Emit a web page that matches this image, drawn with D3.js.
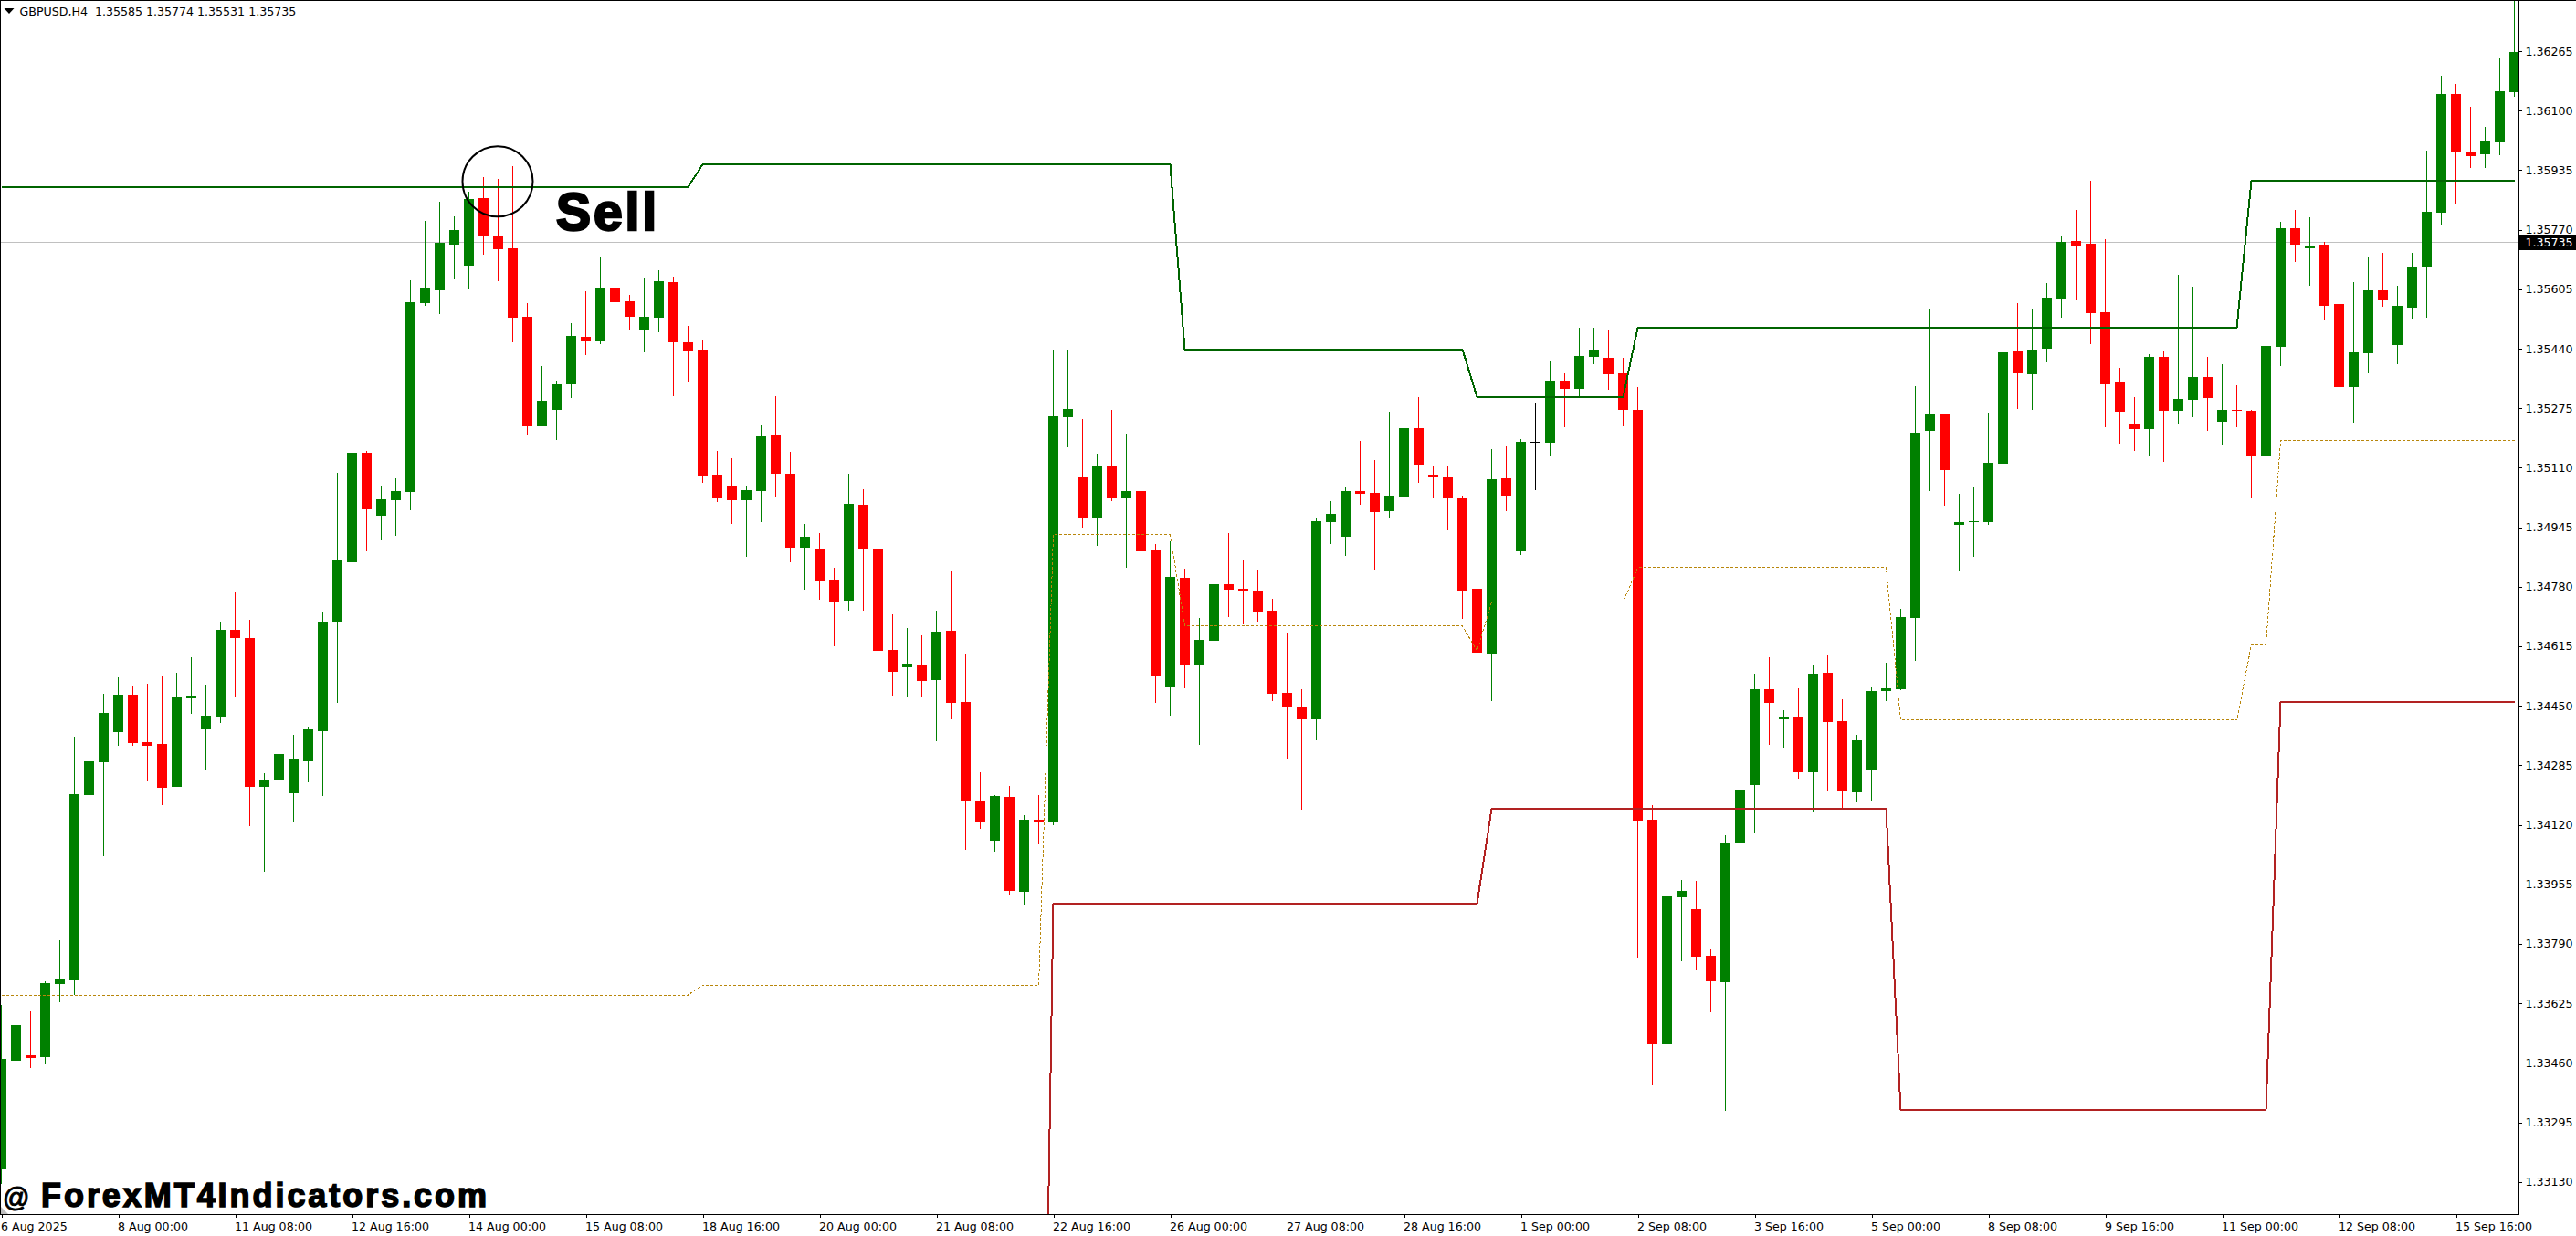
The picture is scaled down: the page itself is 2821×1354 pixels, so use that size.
<!DOCTYPE html>
<html>
<head>
<meta charset="utf-8">
<title>GBPUSD,H4</title>
<script src="https://cdn.jsdelivr.net/npm/d3@7/dist/d3.min.js"></script>
<style>
 html, body { margin: 0; padding: 0; background: #fff; }
 svg { display: block; }
 text { font-family: "DejaVu Sans", sans-serif; white-space: pre; }
</style>
</head>
<body>
<svg width="2821" height="1354"></svg>
<script>
// OHLC of every H4 bar
var barOpen = [
 1.33165,1.33466,1.33481,1.33476,1.33679,1.33689,1.34202,1.34294,1.34377,1.34481,
 1.34349,1.34344,1.34225,1.34471,1.34385,1.34420,1.34661,1.34638,1.34225,1.34243,
 1.34208,1.34296,1.34380,1.34683,1.34848,1.35152,1.34977,1.35020,1.35043,1.35567,
 1.35602,1.35729,1.35670,1.35858,1.35754,1.35719,1.35529,1.35225,1.35271,1.35341,
 1.35473,1.35460,1.35610,1.35572,1.35491,1.35526,1.35625,1.35458,1.35438,1.35091,
 1.35061,1.35020,1.35045,1.35200,1.35093,1.34888,1.34886,1.34800,1.34742,1.35007,
 1.34886,1.34605,1.34557,1.34564,1.34521,1.34658,1.34461,1.34187,1.34076,1.34197,
 1.33934,1.34134,1.34127,1.35250,1.35083,1.34969,1.35114,1.35025,1.35045,1.34881,
 1.34501,1.34805,1.34564,1.34630,1.34787,1.34775,1.34769,1.34714,1.34486,1.34448,
 1.34413,1.34959,1.34919,1.35045,1.35040,1.34990,1.35030,1.35220,1.35091,1.35086,
 1.35028,1.34775,1.34595,1.35081,1.34878,1.35181,1.35179,1.35352,1.35329,1.35417,
 1.35415,1.35372,1.35271,1.34134,1.33512,1.33919,1.33886,1.33757,1.33684,1.34068,
 1.34230,1.34496,1.34413,1.34420,1.34266,1.34542,1.34408,1.34210,1.34273,1.34491,
 1.34496,1.34694,1.35212,1.35258,1.34952,1.34959,1.34959,1.35121,1.35435,1.35369,
 1.35440,1.35579,1.35739,1.35731,1.35541,1.35347,1.35230,1.35217,1.35417,1.35268,
 1.35298,1.35362,1.35238,1.35271,1.35268,1.35141,1.35445,1.35774,1.35719,1.35729,
 1.35564,1.35334,1.35428,1.35602,1.35450,1.35554,1.35665,1.35817,1.36146,1.35987,
 1.35979,1.36012,1.36151
];
var barClose = [
 1.33471,1.33565,1.33474,1.33681,1.33691,1.34205,1.34296,1.34430,1.34481,1.34347,
 1.34339,1.34223,1.34473,1.34478,1.34423,1.34661,1.34638,1.34225,1.34246,1.34316,
 1.34301,1.34385,1.34683,1.34853,1.35152,1.34995,1.35023,1.35045,1.35569,1.35607,
 1.35734,1.35769,1.35855,1.35754,1.35716,1.35526,1.35225,1.35296,1.35341,1.35476,
 1.35460,1.35610,1.35569,1.35529,1.35529,1.35627,1.35458,1.35435,1.35088,1.35028,
 1.35020,1.35048,1.35197,1.35093,1.34888,1.34919,1.34797,1.34739,1.35010,1.34886,
 1.34602,1.34544,1.34567,1.34519,1.34656,1.34458,1.34185,1.34129,1.34200,1.33937,
 1.34134,1.34127,1.35253,1.35273,1.34969,1.35114,1.35025,1.35045,1.34878,1.34532,
 1.34807,1.34562,1.34633,1.34787,1.34772,1.34769,1.34711,1.34483,1.34445,1.34413,
 1.34962,1.34982,1.35045,1.35038,1.34987,1.35033,1.35220,1.35119,1.35083,1.35025,
 1.34769,1.34597,1.35078,1.35033,1.35182,1.35181,1.35352,1.35329,1.35420,1.35438,
 1.35369,1.35271,1.34132,1.33512,1.33922,1.33937,1.33755,1.33686,1.34068,1.34218,
 1.34496,1.34458,1.34420,1.34266,1.34539,1.34405,1.34213,1.34354,1.34491,1.34499,
 1.34696,1.35207,1.35260,1.35104,1.34959,1.34962,1.35124,1.35430,1.35372,1.35438,
 1.35582,1.35736,1.35726,1.35539,1.35341,1.35266,1.35217,1.35417,1.35268,1.35301,
 1.35362,1.35303,1.35271,1.35268,1.35141,1.35448,1.35774,1.35729,1.35726,1.35559,
 1.35334,1.35430,1.35602,1.35574,1.35559,1.35668,1.35820,1.36146,1.35984,1.35974,
 1.36015,1.36154,1.36263
];
var barHigh = [
 1.33620,1.33681,1.33603,1.33686,1.33800,1.34365,1.34344,1.34483,1.34529,1.34506,
 1.34511,1.34532,1.34542,1.34585,1.34509,1.34683,1.34764,1.34688,1.34263,1.34370,
 1.34370,1.34392,1.34711,1.35096,1.35235,1.35157,1.35061,1.35081,1.35630,1.35795,
 1.35848,1.35807,1.35875,1.35916,1.35911,1.35946,1.35567,1.35392,1.35352,1.35511,
 1.35600,1.35696,1.35749,1.35589,1.35638,1.35658,1.35640,1.35503,1.35463,1.35157,
 1.35136,1.35061,1.35228,1.35309,1.35154,1.34954,1.34929,1.34833,1.35093,1.35050,
 1.34916,1.34704,1.34666,1.34645,1.34714,1.34825,1.34595,1.34266,1.34202,1.34228,
 1.34147,1.34202,1.35438,1.35438,1.35245,1.35149,1.35271,1.35205,1.35129,1.34899,
 1.34906,1.34830,1.34694,1.34931,1.34929,1.34853,1.34828,1.34747,1.34653,1.34496,
 1.34972,1.35017,1.35058,1.35185,1.35131,1.35266,1.35271,1.35306,1.35114,1.35114,
 1.35033,1.34790,1.35162,1.35169,1.35190,1.35291,1.35405,1.35372,1.35498,1.35498,
 1.35493,1.35415,1.35334,1.34175,1.34185,1.33967,1.33965,1.33775,1.34091,1.34294,
 1.34539,1.34585,1.34438,1.34499,1.34564,1.34590,1.34468,1.34370,1.34501,1.34569,
 1.34719,1.35336,1.35549,1.35260,1.35038,1.35055,1.35263,1.35491,1.35567,1.35549,
 1.35622,1.35751,1.35825,1.35906,1.35744,1.35387,1.35306,1.35425,1.35433,1.35645,
 1.35612,1.35417,1.35397,1.35339,1.35271,1.35488,1.35792,1.35825,1.35805,1.35736,
 1.35749,1.35625,1.35693,1.35706,1.35615,1.35706,1.35989,1.36197,1.36174,1.36111,
 1.36055,1.36245,1.36407
];
var barLow = [
 1.33124,1.33448,1.33446,1.33456,1.33628,1.33648,1.33899,1.34033,1.34339,1.34339,
 1.34240,1.34175,1.34225,1.34428,1.34273,1.34402,1.34476,1.34116,1.33990,1.34170,
 1.34129,1.34238,1.34200,1.34458,1.34628,1.34878,1.34909,1.34921,1.34992,1.35559,
 1.35536,1.35633,1.35605,1.35701,1.35627,1.35458,1.35202,1.35225,1.35187,1.35303,
 1.35422,1.35453,1.35534,1.35493,1.35430,1.35486,1.35309,1.35347,1.35068,1.35015,
 1.34954,1.34863,1.34959,1.35030,1.34848,1.34772,1.34744,1.34615,1.34714,1.34714,
 1.34473,1.34478,1.34473,1.34476,1.34352,1.34413,1.34051,1.34109,1.34046,1.33927,
 1.33899,1.34066,1.34119,1.35167,1.34944,1.34893,1.35017,1.34833,1.34843,1.34458,
 1.34423,1.34499,1.34342,1.34610,1.34696,1.34676,1.34683,1.34463,1.34301,1.34162,
 1.34354,1.34899,1.34866,1.35007,1.34828,1.34972,1.34886,1.35068,1.35025,1.34937,
 1.34691,1.34458,1.34463,1.34990,1.34868,1.35048,1.35144,1.35222,1.35306,1.35397,
 1.35326,1.35225,1.33752,1.33398,1.33420,1.33742,1.33717,1.33600,1.33327,1.33947,
 1.34099,1.34342,1.34334,1.34248,1.34157,1.34215,1.34167,1.34182,1.34187,1.34463,
 1.34494,1.34575,1.35045,1.35005,1.34823,1.34863,1.34952,1.35015,1.35273,1.35271,
 1.35402,1.35526,1.35574,1.35453,1.35222,1.35177,1.35157,1.35141,1.35126,1.35230,
 1.35250,1.35212,1.35174,1.35222,1.35028,1.34931,1.35392,1.35681,1.35615,1.35519,
 1.35306,1.35235,1.35372,1.35557,1.35397,1.35521,1.35526,1.35782,1.35843,1.35941,
 1.35941,1.35977,1.36139
];

// Indicator levels, given at the bars where they change
var upperBars = [0, 47, 48, 80, 81, 100, 101, 111, 112, 153, 154, 172];
var upperVals = [1.35888, 1.35888, 1.35951, 1.35951, 1.35438, 1.35438, 1.35306, 1.35306, 1.35498, 1.35498, 1.35906, 1.35906];
var lowerBars = [71, 72, 101, 102, 129, 130, 155, 156, 172];
var lowerVals = [1.31396, 1.33901, 1.33901, 1.34165, 1.34165, 1.33329, 1.33329, 1.34461, 1.34461];
var midBars = [0, 47, 48, 71, 72, 80, 81, 100, 101, 102, 111, 112, 129, 130, 153, 154, 155, 156, 172];
var midVals = [1.33648, 1.33648, 1.33674, 1.33674, 1.34924, 1.34924, 1.34671, 1.34671, 1.34602, 1.34737, 1.34737, 1.34833, 1.34833, 1.34410, 1.34410, 1.34618, 1.34618, 1.35185, 1.35185];

// Axis ticks
var priceTicks = [1.36265, 1.36100, 1.35935, 1.35770, 1.35605, 1.35440, 1.35275, 1.35110, 1.34945, 1.34780,
 1.34615, 1.34450, 1.34285, 1.34120, 1.33955, 1.33790, 1.33625, 1.33460, 1.33295, 1.33130];
var timeLabels = ["6 Aug 2025", "8 Aug 00:00", "11 Aug 08:00", "12 Aug 16:00", "14 Aug 00:00", "15 Aug 08:00",
 "18 Aug 16:00", "20 Aug 00:00", "21 Aug 08:00", "22 Aug 16:00", "26 Aug 00:00", "27 Aug 08:00", "28 Aug 16:00",
 "1 Sep 00:00", "2 Sep 08:00", "3 Sep 16:00", "5 Sep 00:00", "8 Sep 08:00", "9 Sep 16:00", "11 Sep 00:00",
 "12 Sep 08:00", "15 Sep 16:00"];
var barsPerLabel = 8;
var lastPrice = 1.35735;
var headerText = "GBPUSD,H4  1.35585 1.35774 1.35531 1.35735";

var plotRight = 2758, plotBottom = 1330;
var bodyWidth = 11;

var svg = d3.select("svg");

var x = d3.scaleLinear().domain([0, barOpen.length - 1]).range([1.5, 2753.5]);
var y = d3.scaleLinear().domain([1.36265, 1.33130]).range([56, 1294.7]);

svg.append("defs").append("clipPath").attr("id", "plot")
 .append("rect").attr("width", plotRight).attr("height", plotBottom);

var g = svg.append("g").attr("clip-path", "url(#plot)");

// last price line sits behind the candles
g.append("line")
 .attr("x1", 0).attr("x2", plotRight)
 .attr("y1", y(lastPrice)).attr("y2", y(lastPrice))
 .attr("stroke", "#c0c0c0").attr("stroke-width", 1)
 .attr("shape-rendering", "crispEdges");

function barColor(i) {
 if (barClose[i] > barOpen[i]) return "#008000";
 if (barClose[i] < barOpen[i]) return "#ff0000";
 return "#000000";
}

var bars = g.selectAll(".bar")
 .data(d3.range(barOpen.length))
 .enter()
 .append("g")
 .attr("class", "bar")
 .attr("shape-rendering", "crispEdges");

bars.append("line")
 .attr("x1", function(i) { return x(i); })
 .attr("x2", function(i) { return x(i); })
 .attr("y1", function(i) { return y(barHigh[i]); })
 .attr("y2", function(i) { return y(barLow[i]); })
 .attr("stroke", barColor)
 .attr("stroke-width", 1);

bars.append("rect")
 .attr("x", function(i) { return x(i) - bodyWidth / 2; })
 .attr("width", bodyWidth)
 .attr("y", function(i) { return Math.round(y(Math.max(barOpen[i], barClose[i]))); })
 .attr("height", function(i) {
  return Math.max(1, Math.round(y(Math.min(barOpen[i], barClose[i]))) - Math.round(y(Math.max(barOpen[i], barClose[i]))));
 })
 .attr("fill", barColor);

function levelLine(barsArr, valsArr) {
 return d3.line()
  .x(function(d, i) { return x(barsArr[i]); })
  .y(function(d) { return y(d); })(valsArr);
}

g.append("path")
 .attr("d", levelLine(midBars, midVals))
 .attr("fill", "none").attr("stroke", "#b8860b").attr("stroke-width", 1)
 .attr("stroke-dasharray", "3,2")
 .attr("shape-rendering", "crispEdges");

g.append("path")
 .attr("d", levelLine(upperBars, upperVals))
 .attr("fill", "none").attr("stroke", "#006400").attr("stroke-width", 2)
 .attr("shape-rendering", "crispEdges");

g.append("path")
 .attr("d", levelLine(lowerBars, lowerVals))
 .attr("fill", "none").attr("stroke", "#b22222").attr("stroke-width", 2)
 .attr("shape-rendering", "crispEdges");

// sell marker
g.append("circle")
 .attr("cx", 545).attr("cy", 198.8).attr("r", 38.5)
 .attr("fill", "none").attr("stroke", "#000").attr("stroke-width", 2);

svg.append("text")
 .text("Sell")
 .attr("x", 609).attr("y", 252)
 .attr("font-size", "57px").attr("font-weight", "bold")
 .style("font-family", "'Liberation Sans', sans-serif")
 .attr("stroke", "#000").attr("stroke-width", 2.5)
 .attr("textLength", 110);

// frame
svg.append("rect")
 .attr("x", 0.5).attr("y", 0.5)
 .attr("width", plotRight).attr("height", plotBottom)
 .attr("fill", "none").attr("stroke", "#000")
 .attr("shape-rendering", "crispEdges");
svg.append("line")
 .attr("x1", plotRight).attr("x2", 2821).attr("y1", 0.5).attr("y2", 0.5)
 .attr("stroke", "#000").attr("shape-rendering", "crispEdges");

// price axis
var yAxis = svg.append("g")
 .attr("transform", "translate(" + (plotRight + 0.5) + ",0)")
 .call(d3.axisRight(y).tickValues(priceTicks).tickFormat(d3.format(".5f")).tickSize(3).tickPadding(4));
yAxis.select(".domain").remove();
yAxis.selectAll("text").attr("font-size", "12.6px").style("font-family", "'DejaVu Sans', sans-serif").attr("fill", "#000");
yAxis.selectAll("line").attr("shape-rendering", "crispEdges").attr("stroke", "#000");

// time axis
var xAxis = svg.append("g")
 .attr("transform", "translate(0," + (plotBottom + 0.5) + ")")
 .call(d3.axisBottom(x)
  .tickValues(timeLabels.map(function(d, i) { return i * barsPerLabel; }))
  .tickFormat(function(d) { return timeLabels[d / barsPerLabel]; })
  .tickSize(3));
xAxis.select(".domain").remove();
xAxis.selectAll("line").attr("shape-rendering", "crispEdges").attr("stroke", "#000");
xAxis.selectAll("text")
 .attr("text-anchor", "start")
 .attr("x", -1).attr("y", 17.5).attr("dy", 0)
 .attr("font-size", "12.6px").style("font-family", "'DejaVu Sans', sans-serif").attr("fill", "#000");

// last price tag
svg.append("rect")
 .attr("x", plotRight + 1).attr("y", y(lastPrice) - 8).attr("width", 62).attr("height", 17)
 .attr("fill", "#000").attr("shape-rendering", "crispEdges");
svg.append("text")
 .text(d3.format(".5f")(lastPrice))
 .attr("x", plotRight + 7.5).attr("y", y(lastPrice) + 4.5)
 .attr("font-size", "12.6px").attr("fill", "#fff");

// header and corner marks
svg.append("path").attr("d", "M4.5,9L15.5,9L10,15Z").attr("fill", "#000");
svg.append("text")
 .text(headerText)
 .attr("x", 21.5).attr("y", 17)
 .attr("font-size", "12.6px").attr("fill", "#000");

svg.append("path").attr("d", "M1,1322L9,1330L1,1330Z").attr("fill", "#c0c0c0");
svg.append("text")
 .text("@")
 .attr("x", 3).attr("y", 1322)
 .attr("font-size", "29px")
 .style("font-family", "'Liberation Sans', sans-serif")
 .attr("stroke", "#000").attr("stroke-width", 1);
svg.append("text")
 .text("ForexMT4Indicators.com")
 .attr("x", 45).attr("y", 1322)
 .attr("font-size", "36px").attr("font-weight", "bold")
 .style("font-family", "'Liberation Sans', sans-serif")
 .attr("stroke", "#000").attr("stroke-width", 1.5)
 .attr("textLength", 488);
</script>
</body>
</html>
